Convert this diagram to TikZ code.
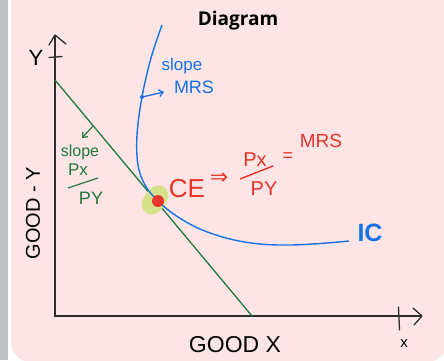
\documentclass[tikz,border=0pt]{standalone}
\usepackage{fontspec}
\setmainfont{Liberation Sans}
\newfontfamily\titlefont{Open Sans}
\newfontfamily\symfont{DejaVu Sans}
\usetikzlibrary{arrows.meta}
\definecolor{bgpink}{HTML}{FDE5E5}
\definecolor{strip}{HTML}{BDC0C3}
\definecolor{icblue}{HTML}{1673E6}
\definecolor{bgreen}{HTML}{1F7A3C}
\definecolor{cered}{HTML}{E8342A}
\definecolor{glow}{HTML}{D5E28A}
\definecolor{axis}{HTML}{2E2E2E}
\tikzset{
  hand/.style={font=\fontsize{#1}{#1}\selectfont, inner sep=0pt},
  axisline/.style={draw=axis, line width=1.5pt},
  openhead/.style={draw=axis, line width=1.3pt, line cap=round, line join=round},
  bluetext/.style={text=icblue},
  greentext/.style={text=bgreen},
  redtext/.style={text=cered},
}
\begin{document}
\begin{tikzpicture}[x=1pt,y=-1pt]
\useasboundingbox (0,0) rectangle (444,360);
% background
\fill[white] (0,0) rectangle (444,360);
\fill[strip] (0,0) rectangle (8,360);
\fill[bgpink, rounded corners=20pt] (11,-30) rectangle (447,362);

% title
\node[font=\titlefont\bfseries\fontsize{19}{19}\selectfont, inner sep=0pt] (title) at (238,21) {Diagram};

% axes
\coordinate (O) at (55,316);
\coordinate (ytop) at (55,35);
\coordinate (xend) at (422,316);
\draw[axisline] (ytop) -- (O) -- (xend);
\draw[openhead] (49,45) -- (ytop) -- (66,44);
\draw[openhead] (413,308) -- (xend) -- (414,325);
\draw[openhead] (49,57.5) -- (62,56.5);
\draw[openhead] (398.5,307) -- (399.5,330);

\node[hand=22] (ylab) at (36,58) {Y};
\node[hand=15] (xlab) at (404,344) {x};
\node[hand=23] (goodx) at (235,345) {GOOD X};
\node[hand=20, rotate=90] (goody) at (33,213) {GOOD - Y};

% budget line
\coordinate (b1) at (55,80);
\coordinate (b2) at (252,316);
\draw[bgreen, line width=1.3pt] (b1) -- (b2);

% tangent glow and point
\fill[glow, rotate around={-35:(155,200)}] (155,200) ellipse (11 and 16);

% indifference curve
\draw[icblue, line width=1.4pt] plot[smooth, tension=0.6] coordinates {
 (162,25) (151,58) (142,97) (137,135) (138,165) (145,185) (157,200)
 (175,215) (200,229) (230,239) (260,244) (290,245) (320,243.5) (349,241)};
\coordinate (ce) at (158,201);
\fill[cered] (ce) circle (6);

% blue label + arrow
\node[hand=17, bluetext] (slopeb) at (182,66) {slope};
\node[hand=18, bluetext] (mrsb) at (194,87) {MRS};
\coordinate (ba1) at (142,97);
\coordinate (ba2) at (164,92);
\fill[icblue] (ba1) circle (2);
\draw[icblue, line width=1.3pt, -{Straight Barb[length=4pt,width=7pt]}] (ba1) -- (ba2);
\node[bluetext, inner sep=0pt, font=\bfseries\fontsize{25}{25}\selectfont] (ic) at (370,233) {IC};

% green label + arrow
\coordinate (ga1) at (93,126);
\coordinate (ga2) at (82,138);
\draw[bgreen, line width=1.2pt, -{Straight Barb[length=4pt,width=7pt]}] (ga1) -- (ga2);
\node[hand=16, greentext] (slopeg) at (80,152) {slope};
\node[hand=17, greentext] (pxg) at (78,170) {Px};
\coordinate (gf1) at (68,188);
\coordinate (gf2) at (98,178);
\draw[bgreen, line width=1.2pt] (gf1) -- (gf2);
\node[hand=18, greentext] (pyg) at (91,198) {PY};

% red label
\node[hand=26, redtext] (celab) at (187,189) {CE};
\node[redtext, inner sep=0pt, font=\symfont\fontsize{22}{22}\selectfont] (impl) at (219,179) {⇒};
\node[hand=20, redtext] (pxr) at (255,160) {Px};
\coordinate (rf1) at (240,179);
\coordinate (rf2) at (273,166);
\draw[cered, line width=1.4pt] (rf1) -- (rf2);
\node[hand=20, redtext] (pyr) at (264,189) {PY};
\node[hand=18, redtext] (eqr) at (288,157) {=};
\node[hand=19, redtext] (mrsr) at (321,141) {MRS};
\end{tikzpicture}
\end{document}
